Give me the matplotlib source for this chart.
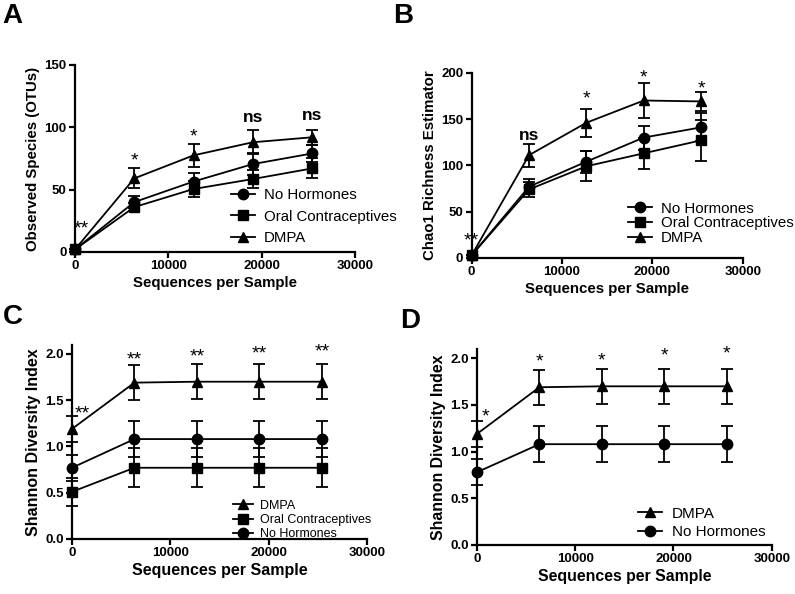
import matplotlib
matplotlib.use("Agg")
import matplotlib.pyplot as plt
from matplotlib.lines import Line2D

plt.rcParams['font.family'] = ['Liberation Sans', 'DejaVu Sans']

# ---------------- data ----------------
depth = [0, 6350, 12700, 19050, 25400]

# Panel A: Observed species (OTUs)
a_nh = [2, 40, 56.5, 70.5, 79]
a_nh_err = [0, 5, 7, 9, 7]
a_oc = [2, 36, 50.5, 58.5, 67]
a_oc_err = [0, 3, 6.5, 7.5, 8]
a_dm = [2, 59, 77.5, 88, 92]
a_dm_err = [0, 8, 9, 9.5, 6]
a_sig = ["**", "*", "*", "ns", "ns"]
a_sig_x = [720, 6350, 12700, 19050, 25400]
a_sig_y = [15, 69, 89, 104, 106]

# Panel B: Chao1
b_nh = [3, 77, 104, 130, 141]
b_nh_err = [0, 8, 12, 13, 15]
b_oc = [3, 74, 99, 113, 127]
b_oc_err = [0, 8, 16, 17, 22]
b_dm = [3, 111, 146, 170, 169]
b_dm_err = [0, 12.5, 15, 19, 10]
b_sig = ["**", "ns", "*", "*", "*"]
b_sig_x = [0, 6350, 12700, 19050, 25400]
b_sig_y = [13, 127, 167, 190, 178]

# Panel C: Shannon (three groups)
c_dm = [1.19, 1.69, 1.70, 1.70, 1.70]
c_dm_err = [0.14, 0.19, 0.19, 0.19, 0.19]
c_oc = [0.51, 0.77, 0.77, 0.77, 0.77]
c_oc_err = [0.15, 0.21, 0.21, 0.21, 0.21]
c_nh = [0.77, 1.08, 1.08, 1.08, 1.08]
c_nh_err = [0.14, 0.19, 0.19, 0.19, 0.19]
c_sig = ["**", "**", "**", "**", "**"]
c_sig_x = [1000, 6350, 12700, 19050, 25400]
c_sig_y = [1.30, 1.89, 1.92, 1.95, 1.97]

# Panel D: Shannon (two groups)
d_dm = [1.19, 1.69, 1.70, 1.70, 1.70]
d_dm_err = [0.14, 0.19, 0.19, 0.19, 0.19]
d_nh = [0.78, 1.08, 1.08, 1.08, 1.08]
d_nh_err = [0.14, 0.19, 0.19, 0.19, 0.19]
d_sig = ["*", "*", "*", "*", "*"]
d_sig_x = [815, 6350, 12700, 19050, 25400]
d_sig_y = [1.32, 1.915, 1.925, 1.98, 2.0]

x_ticks = [0, 10000, 20000, 30000]
x_label = "Sequences per Sample"

# ---------------- figure ----------------
fig = plt.figure(figsize=(7.95, 5.94), dpi=100)

LW = 1.3
MS = 7.5
CAP = 4


def style_axes(ax, ylim, yticks, ylabel, yfmt=None, lsize=10.8):
    ax.set_xlim(0, 30000)
    ax.set_ylim(*ylim)
    ax.set_xticks(x_ticks)
    ax.set_yticks(yticks)
    if yfmt:
        ax.set_yticklabels([yfmt.format(v) for v in yticks])
    for s in ['top', 'right']:
        ax.spines[s].set_visible(False)
    for s in ['left', 'bottom']:
        ax.spines[s].set_linewidth(1.6)
    ax.tick_params(axis='both', direction='out', length=4, width=1.6,
                   labelsize=9.5, pad=2)
    for lab in ax.get_xticklabels() + ax.get_yticklabels():
        lab.set_fontweight('bold')
    ax.set_xlabel(x_label, fontsize=lsize, fontweight='bold', labelpad=3)
    ax.set_ylabel(ylabel, fontsize=lsize, fontweight='bold', labelpad=3)


def series(ax, y, err, marker, label, ms=MS):
    ax.errorbar(depth, y, yerr=err, color='black', marker=marker, ms=ms,
                lw=LW, elinewidth=LW, capsize=CAP, capthick=LW,
                clip_on=False, label=label, zorder=3)


def sig(ax, texts, xs, ys):
    for t, x, y in zip(texts, xs, ys):
        if t == "ns":
            ax.text(x, y, t, ha='center', va='baseline', fontsize=12.5,
                    fontweight='bold')
        else:
            ax.text(x, y, t, ha='center', va='baseline', fontsize=14)


def leg(ax, handles_labels, x, y, fs, spacing):
    handles = [Line2D([0], [0], color='black', marker=m, ms=MS, lw=LW)
               for m, _ in handles_labels]
    labels = [l for _, l in handles_labels]
    fig.legend(handles, labels, loc='center left', bbox_to_anchor=(x, y),
               bbox_transform=fig.transFigure, frameon=False, fontsize=fs,
               handlelength=1.6, handletextpad=0.6, labelspacing=spacing,
               borderpad=0, borderaxespad=0)


# Panel A
axA = fig.add_axes([0.0943, 0.5758, 0.3522, 0.3148])
series(axA, a_nh, a_nh_err, 'o', 'No Hormones')
series(axA, a_oc, a_oc_err, 's', 'Oral Contraceptives')
series(axA, a_dm, a_dm_err, '^', 'DMPA')
style_axes(axA, (0, 150), [0, 50, 100, 150], "Observed Species (OTUs)")
sig(axA, a_sig, a_sig_x, a_sig_y)
leg(axA, [('o', 'No Hormones'), ('s', 'Oral Contraceptives'), ('^', 'DMPA')],
    0.2900, 0.6352, 10.8, 0.52)

# Panel B
axB = fig.add_axes([0.5933, 0.5657, 0.3409, 0.3119])
series(axB, b_nh, b_nh_err, 'o', 'No Hormones')
series(axB, b_oc, b_oc_err, 's', 'Oral Contraceptives')
series(axB, b_dm, b_dm_err, '^', 'DMPA')
style_axes(axB, (0, 200), [0, 50, 100, 150, 200], "Chao1 Richness Estimator")
sig(axB, b_sig, b_sig_x, b_sig_y)
leg(axB, [('o', 'No Hormones'), ('s', 'Oral Contraceptives'), ('^', 'DMPA')],
    0.7895, 0.624, 10.8, 0.05)

# Panel C
axC = fig.add_axes([0.0906, 0.0926, 0.3711, 0.3271])
series(axC, c_dm, c_dm_err, '^', 'DMPA')
series(axC, c_oc, c_oc_err, 's', 'Oral Contraceptives')
series(axC, c_nh, c_nh_err, 'o', 'No Hormones')
style_axes(axC, (0, 2.1), [0, 0.5, 1.0, 1.5, 2.0], "Shannon Diversity Index",
           yfmt="{:.1f}", lsize=11.5)
sig(axC, c_sig, c_sig_x, c_sig_y)
leg(axC, [('^', 'DMPA'), ('s', 'Oral Contraceptives'), ('o', 'No Hormones')],
    0.293, 0.1246, 9, 0.18)

# Panel D
axD = fig.add_axes([0.6, 0.0825, 0.3707, 0.3300])
series(axD, d_dm, d_dm_err, '^', 'DMPA')
series(axD, d_nh, d_nh_err, 'o', 'No Hormones')
style_axes(axD, (0, 2.1), [0, 0.5, 1.0, 1.5, 2.0], "Shannon Diversity Index",
           yfmt="{:.1f}", lsize=11.4)
sig(axD, d_sig, d_sig_x, d_sig_y)
leg(axD, [('^', 'DMPA'), ('o', 'No Hormones')], 0.8025, 0.1195, 11, 0.3)

# Panel letters
for letter, x, y in [("A", 0.003, 0.962), ("B", 0.494, 0.962),
                     ("C", 0.003, 0.455), ("D", 0.503, 0.448)]:
    fig.text(x, y, letter, fontsize=20, fontweight='bold', ha='left',
             va='baseline')

fig.savefig("out.png", dpi=100)
